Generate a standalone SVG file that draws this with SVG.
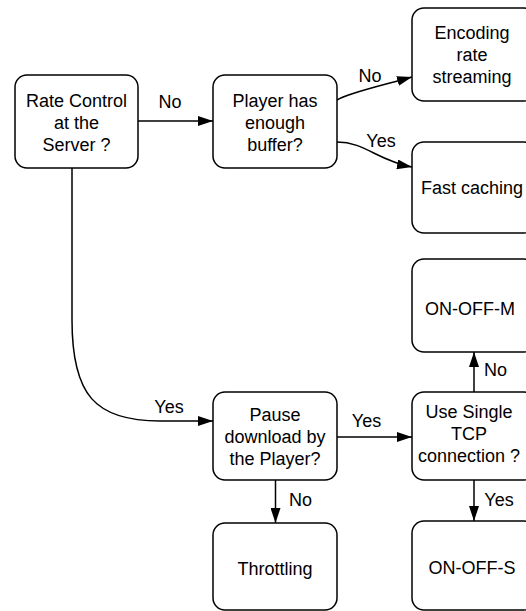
<svg xmlns="http://www.w3.org/2000/svg" width="526" height="611" viewBox="0 0 526 611">
  <style>
    .box { fill: #ffffff; stroke: #000000; stroke-width: 1.5; }
    .lbl { font-family: "Liberation Sans", Arial, Helvetica, sans-serif; font-size: 18px; fill: #000000; text-anchor: middle; }
    .edge { fill: none; stroke: #000000; stroke-width: 1.5; marker-end: url(#ah); }
  </style>
  <defs>
    <marker id="ah" viewBox="0 0 15 10" refX="15" refY="5" markerWidth="15" markerHeight="10" orient="auto" markerUnits="userSpaceOnUse">
      <path d="M0,0 L15,5 L0,10 z" fill="#000000"/>
    </marker>
  </defs>
  <rect width="526" height="611" fill="#ffffff"/>

  <!-- connectors -->
  <g id="connectors">
    <path class="edge" d="M138,121 L213,121"/>
    <path class="edge" d="M337,100 C348,93 380,86 412,77"/>
    <path class="edge" d="M337,142 C365,142 378,161 412,167"/>
    <path class="edge" d="M72,168 L72,320 C72,395 95,421 160,421 L213,421"/>
    <path class="edge" d="M337,437 L412,437"/>
    <path class="edge" d="M275.5,480 L275.5,523"/>
    <path class="edge" d="M474,392 L474,352"/>
    <path class="edge" d="M474,480 L474,521"/>
    <text class="lbl" x="170" y="108">No</text>
    <text class="lbl" x="370" y="82">No</text>
    <text class="lbl" x="381" y="147">Yes</text>
    <text class="lbl" x="169" y="413">Yes</text>
    <text class="lbl" x="366.5" y="427">Yes</text>
    <text class="lbl" x="300.5" y="506">No</text>
    <text class="lbl" x="499" y="506">Yes</text>
    <text class="lbl" x="495.5" y="376">No</text>
  </g>

  <!-- nodes -->
  <g id="rate-control">
    <rect class="box" x="15" y="75" width="123" height="93" rx="12"/>
    <text class="lbl" x="76.5" y="107">Rate Control</text>
    <text class="lbl" x="76.5" y="129">at the</text>
    <text class="lbl" x="76.5" y="151">Server ?</text>
  </g>
  <g id="player-buffer">
    <rect class="box" x="213" y="75" width="124" height="93" rx="12"/>
    <text class="lbl" x="275" y="107">Player has</text>
    <text class="lbl" x="275" y="129">enough</text>
    <text class="lbl" x="275" y="151">buffer?</text>
  </g>
  <g id="encoding-rate">
    <rect class="box" x="412" y="8" width="124" height="93" rx="12"/>
    <text class="lbl" x="472" y="39">Encoding</text>
    <text class="lbl" x="472" y="61">rate</text>
    <text class="lbl" x="472" y="83">streaming</text>
  </g>
  <g id="fast-caching">
    <rect class="box" x="412" y="142" width="124" height="91" rx="12"/>
    <text class="lbl" x="472" y="194">Fast caching</text>
  </g>
  <g id="on-off-m">
    <rect class="box" x="412" y="259" width="124" height="93" rx="12"/>
    <text class="lbl" x="470" y="315">ON-OFF-M</text>
  </g>
  <g id="pause-download">
    <rect class="box" x="213" y="392" width="124" height="88" rx="12"/>
    <text class="lbl" x="275" y="421">Pause</text>
    <text class="lbl" x="275" y="443">download by</text>
    <text class="lbl" x="275" y="465">the Player?</text>
  </g>
  <g id="single-tcp">
    <rect class="box" x="412" y="392" width="124" height="88" rx="12"/>
    <text class="lbl" x="469" y="418">Use Single</text>
    <text class="lbl" x="469" y="440">TCP</text>
    <text class="lbl" x="469" y="462">connection ?</text>
  </g>
  <g id="throttling">
    <rect class="box" x="213" y="523" width="124" height="87" rx="12"/>
    <text class="lbl" x="275" y="575">Throttling</text>
  </g>
  <g id="on-off-s">
    <rect class="box" x="412" y="521" width="124" height="89" rx="12"/>
    <text class="lbl" x="472" y="574">ON-OFF-S</text>
  </g>
</svg>
